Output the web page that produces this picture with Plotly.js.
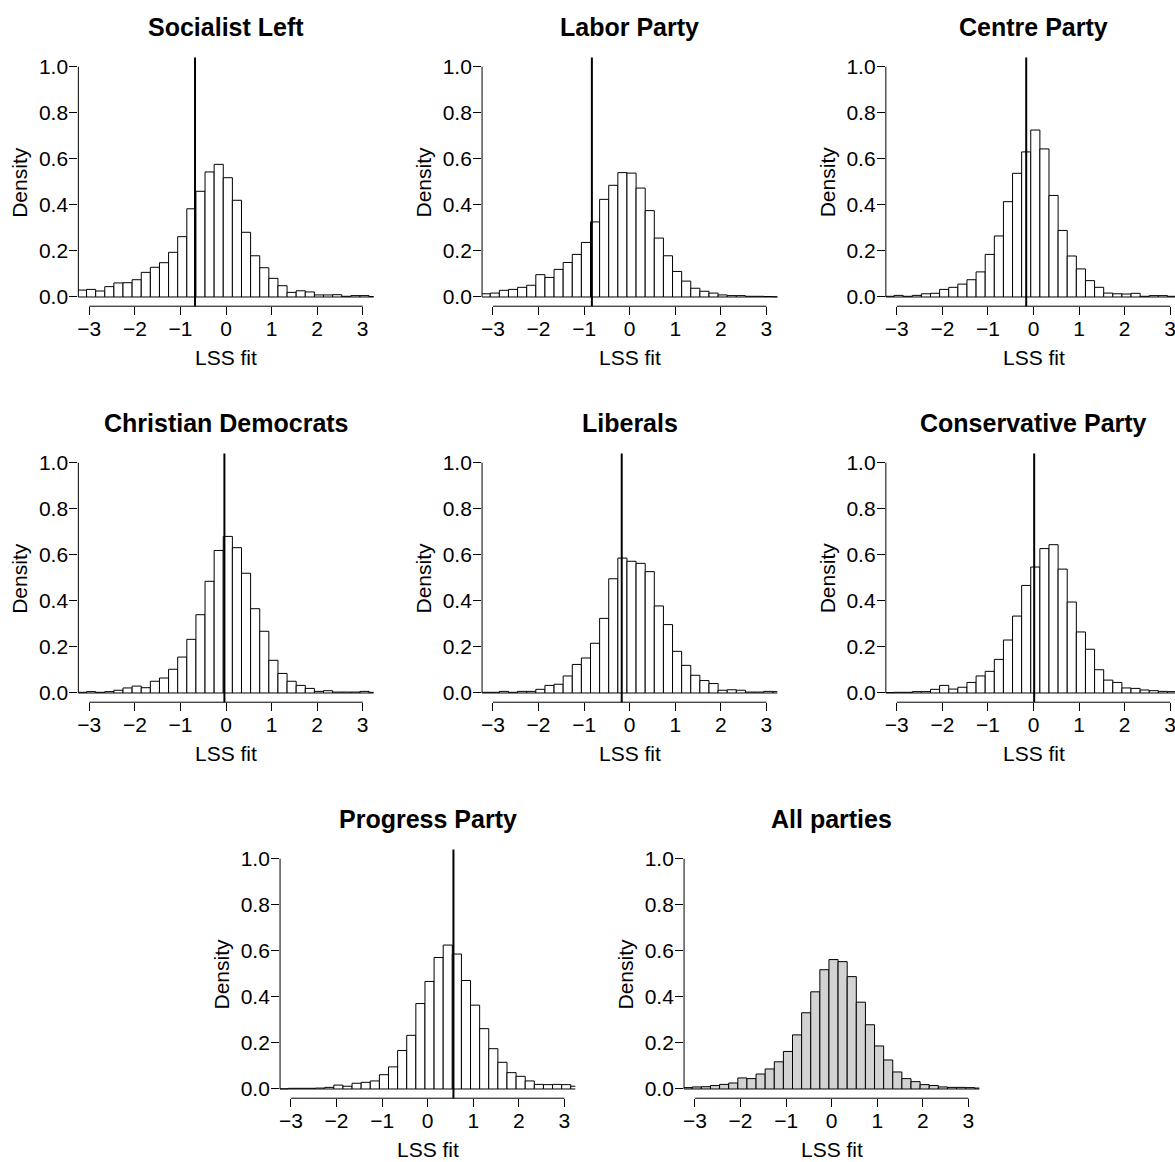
<!DOCTYPE html>
<html>
<head>
<meta charset="utf-8">
<script src="https://cdn.plot.ly/plotly-3.0.1.min.js"></script>
<style>html,body{margin:0;padding:0;background:#fff;}#chart{width:1175px;height:1162px;}</style>
</head>
<body>
<div id="chart"></div>
<script>
// ---------- data ----------
const partyNames = ["Socialist Left", "Labor Party", "Centre Party",
  "Christian Democrats", "Liberals", "Conservative Party",
  "Progress Party", "All parties"];

const binCenters = [-3.16, -2.96, -2.76, -2.56, -2.36, -2.16, -1.96, -1.76, -1.56, -1.36,
  -1.16, -0.96, -0.76, -0.56, -0.36, -0.16, 0.04, 0.24, 0.44, 0.64, 0.84, 1.04,
  1.24, 1.44, 1.64, 1.84, 2.04, 2.24, 2.44, 2.64, 2.84, 3.04, 3.24];

const socialistLeft = [0.030, 0.033, 0.026, 0.045, 0.061, 0.062, 0.075, 0.107, 0.129, 0.149,
  0.194, 0.262, 0.383, 0.459, 0.543, 0.576, 0.518, 0.420, 0.281, 0.179, 0.127, 0.081,
  0.049, 0.020, 0.027, 0.022, 0.009, 0.009, 0.010, 0.003, 0.006, 0.006, 0.002];
const laborParty = [0.014, 0.017, 0.029, 0.033, 0.042, 0.051, 0.097, 0.085, 0.120, 0.150,
  0.185, 0.237, 0.326, 0.424, 0.485, 0.540, 0.538, 0.473, 0.375, 0.256, 0.179, 0.111,
  0.069, 0.038, 0.025, 0.017, 0.009, 0.006, 0.006, 0.003, 0.003, 0.002, 0.001];
const centreParty = [0.003, 0.007, 0.003, 0.007, 0.014, 0.016, 0.033, 0.042, 0.056, 0.075,
  0.109, 0.185, 0.265, 0.414, 0.537, 0.630, 0.725, 0.643, 0.441, 0.289, 0.178, 0.122,
  0.071, 0.042, 0.017, 0.014, 0.013, 0.016, 0.003, 0.006, 0.006, 0.003, 0.003];
const christianDemocrats = [0.003, 0.006, 0.003, 0.006, 0.012, 0.022, 0.030, 0.023, 0.051, 0.065,
  0.103, 0.156, 0.233, 0.340, 0.485, 0.619, 0.680, 0.631, 0.520, 0.366, 0.268, 0.142,
  0.085, 0.051, 0.033, 0.020, 0.007, 0.010, 0.004, 0.004, 0.004, 0.007, 0.003];
const liberals = [0.003, 0.003, 0.007, 0.003, 0.007, 0.007, 0.016, 0.033, 0.038, 0.074,
  0.124, 0.152, 0.216, 0.324, 0.496, 0.586, 0.572, 0.563, 0.527, 0.378, 0.297, 0.181,
  0.120, 0.077, 0.054, 0.041, 0.012, 0.014, 0.012, 0.004, 0.004, 0.007, 0.006];
const conservativeParty = [0.002, 0.003, 0.003, 0.006, 0.006, 0.016, 0.033, 0.017, 0.025, 0.046,
  0.074, 0.094, 0.146, 0.230, 0.334, 0.467, 0.547, 0.627, 0.644, 0.538, 0.395, 0.265,
  0.190, 0.101, 0.056, 0.046, 0.022, 0.020, 0.013, 0.010, 0.007, 0.006, 0.006];
const progressParty = [0.001, 0.003, 0.003, 0.003, 0.004, 0.007, 0.017, 0.012, 0.025, 0.029,
  0.035, 0.062, 0.096, 0.167, 0.233, 0.371, 0.467, 0.571, 0.625, 0.586, 0.471, 0.364,
  0.262, 0.175, 0.116, 0.071, 0.055, 0.035, 0.020, 0.019, 0.020, 0.019, 0.012];
const allParties = [0.006, 0.009, 0.010, 0.015, 0.020, 0.026, 0.048, 0.045, 0.065, 0.087,
  0.118, 0.163, 0.235, 0.331, 0.422, 0.518, 0.562, 0.553, 0.488, 0.377, 0.279, 0.187,
  0.126, 0.074, 0.045, 0.032, 0.019, 0.015, 0.009, 0.007, 0.007, 0.006, 0.004];

// party mean (vertical line); null = no line
const partyMeans = [-0.68, -0.83, -0.16, -0.035, -0.175, 0.015, 0.565, null];

const xTickVals = [-3, -2, -1, 0, 1, 2, 3];
const yTickVals = [0, 0.2, 0.4, 0.6, 0.8, 1.0];

const seriesList = [socialistLeft, laborParty, centreParty, christianDemocrats,
  liberals, conservativeParty, progressParty, allParties];
const fills = ["#ffffff", "#ffffff", "#ffffff", "#ffffff", "#ffffff", "#ffffff", "#ffffff", "#d3d3d3"];

// ---------- layout geometry (pixels) ----------
const W = 1175, H = 1162;
const unit = 45.57;              // px per x unit
const xHalf = 3.24;              // R's 4% extension of [-3,3]
const yUnit = 230.3;             // px per density unit
const zeroX = [226, 629.7, 1033.5, 226, 629.7, 1033.5, 427.7, 831.7];
const baseY = [297, 297, 297, 693, 693, 693, 1089, 1089];

const FONT = "Liberation Sans, Arial, Helvetica, sans-serif";
const FS = 21;

const traces = [];
const layout = {
  width: W, height: H,
  margin: {l: 0, r: 0, t: 0, b: 0, pad: 0},
  paper_bgcolor: "#ffffff", plot_bgcolor: "#ffffff",
  showlegend: false,
  font: {family: FONT, size: FS, color: "#000"},
  shapes: [], annotations: [],
  bargap: 0
};

for (let i = 0; i < 8; i++) {
  const n = i === 0 ? "" : String(i + 1);
  const xa = "x" + n, ya = "y" + n;
  let left = zeroX[i] - xHalf * unit;
  let right = zeroX[i] + xHalf * unit;
  let xMax = xHalf;
  if (right > W) { right = W; xMax = (W - zeroX[i]) / unit; }
  const top = baseY[i] - 1.04 * yUnit;
  const bottom = baseY[i] + 0.04 * yUnit;

  traces.push({
    type: "bar", x: binCenters, y: seriesList[i], width: 0.2,
    xaxis: xa, yaxis: ya,
    marker: {color: fills[i], line: {color: "#000", width: 1}},
    hoverinfo: "skip"
  });

  layout["xaxis" + n] = {
    domain: [left / W, right / W], range: [-xHalf, xMax], anchor: ya,
    showgrid: false, zeroline: false, showline: false,
    tickmode: "array", tickvals: xTickVals, ticks: "outside", ticklen: 8,
    ticklabelstandoff: -4, ticklabeloverflow: "allow",
    tickwidth: 1, tickcolor: "#000", tickfont: {family: FONT, size: FS, color: "#000"}
  };
  layout["yaxis" + n] = {
    domain: [1 - bottom / H, 1 - top / H], range: [-0.04, 1.04], anchor: xa,
    showgrid: false, zeroline: false, showline: false,
    tickmode: "array", tickvals: yTickVals, tickformat: ".1f", ticks: "outside", ticklen: 8,
    ticklabelstandoff: -3,
    tickwidth: 1, tickcolor: "#000", tickfont: {family: FONT, size: FS, color: "#000"}
  };

  // R-style axis lines
  layout.shapes.push({type: "line", xref: xa, yref: ya + " domain",
    x0: -3, x1: 3, y0: 0, y1: 0, line: {color: "#000", width: 1}});
  layout.shapes.push({type: "line", xref: xa + " domain", yref: ya,
    x0: 0, x1: 0, y0: 0, y1: 1, line: {color: "#000", width: 1}});

  if (partyMeans[i] !== null) {
    layout.shapes.push({type: "line", xref: xa, yref: ya + " domain",
      x0: partyMeans[i], x1: partyMeans[i], y0: 0, y1: 1,
      line: {color: "#000", width: 2}});
  }

  const cx = zeroX[i];
  layout.annotations.push({text: "<b>" + partyNames[i] + "</b>", xref: "paper", yref: "paper",
    x: cx / W, y: 1 - (top - 30) / H, xanchor: "center", yanchor: "middle",
    showarrow: false, font: {family: FONT, size: 25, color: "#000"}});
  layout.annotations.push({text: "LSS fit", xref: "paper", yref: "paper",
    x: cx / W, y: 1 - (baseY[i] + 60) / H, xanchor: "center", yanchor: "middle",
    borderpad: 0,
    showarrow: false, font: {family: FONT, size: FS, color: "#000"}});
  layout.annotations.push({text: "Density", xref: "paper", yref: "paper", textangle: -90,
    x: (zeroX[i] - xHalf * unit - 58.4) / W, y: 1 - ((top + bottom) / 2) / H,
    xanchor: "center", yanchor: "middle",
    showarrow: false, font: {family: FONT, size: FS, color: "#000"}});
}

Plotly.newPlot("chart", traces, layout, {staticPlot: true, displayModeBar: false});
</script>
</body>
</html>
